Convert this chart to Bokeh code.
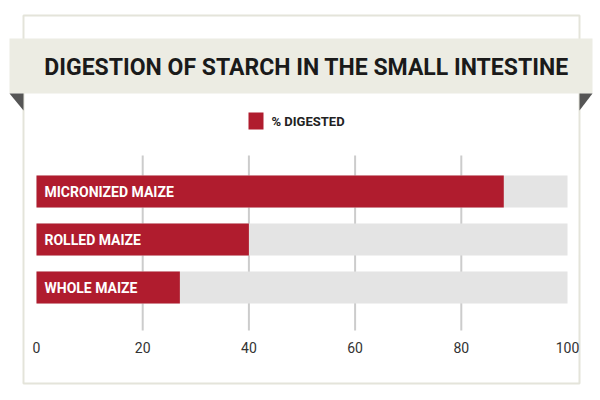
from bokeh.plotting import figure
from bokeh.models import Range1d
from bokeh.core.properties import value
from bokeh.embed import file_html
from bokeh.resources import INLINE

# ---- data ----
categories = ["MICRONIZED MAIZE", "ROLLED MAIZE", "WHOLE MAIZE"]
digested = [88, 40, 27]
full_scale = [100, 100, 100]
ticks = [0, 20, 40, 60, 80, 100]
tick_labels = ["0", "20", "40", "60", "80", "100"]
title_text = "DIGESTION OF STARCH IN THE SMALL INTESTINE"
legend_text = "% DIGESTED"

RED = "#b01c2e"
GRAY = "#e4e4e4"
FONT = "Roboto"

# ---- layout (pixel geometry) ----
X0_PX, PX_PER_UNIT = 36.0, 5.31


def px2x(px):
    return (px - X0_PX) / PX_PER_UNIT


p = figure(width=600, height=400, output_backend="svg", toolbar_location=None,
           x_range=Range1d(px2x(0), px2x(600)), y_range=Range1d(400, 0),
           min_border=0, border_fill_color="white", background_fill_color="white")
p.axis.visible = False
p.grid.visible = False
p.outline_line_color = None

# card
p.quad(left=[px2x(23)], right=[px2x(579)], top=[15], bottom=[383],
       fill_color="white", line_color="#e4e4da", line_width=2)
# banner
p.quad(left=[px2x(9)], right=[px2x(592)], top=[38], bottom=[93],
       fill_color="#ecece3", line_color=None)
# folded corners
p.patch(x=[px2x(9), px2x(23), px2x(23)], y=[93, 93, 110], fill_color="#555555", line_color=None)
p.patch(x=[px2x(579), px2x(592), px2x(579)], y=[93, 93, 110], fill_color="#555555", line_color=None)

p.text(x=[px2x(306)], y=[67], text=[title_text], text_font=value(FONT),
       text_font_style="bold", text_font_size="23px", text_color="#1a1a1a",
       text_align="center", text_baseline="middle")

# legend
p.quad(left=[px2x(248)], right=[px2x(263)], top=[112], bottom=[129],
       fill_color=RED, line_color=None)
p.text(x=[px2x(271)], y=[121], text=[legend_text], text_font=value(FONT),
       text_font_style="bold", text_font_size="13px", text_color="#222222",
       text_align="left", text_baseline="middle")

# gridlines
grid_vals = ticks[1:-1]
p.segment(x0=grid_vals, x1=grid_vals, y0=[155] * len(grid_vals), y1=[330] * len(grid_vals),
          line_color="#cccccc", line_width=2)

# bars
y_centers = [191 + 48 * i for i in range(len(categories))]
p.hbar(y=y_centers, left=0, right=full_scale, height=32, fill_color=GRAY, line_color=None)
p.hbar(y=y_centers, left=0, right=digested, height=32, fill_color=RED, line_color=None)
p.text(x=[px2x(44)] * len(categories), y=y_centers, text=categories, text_font=value(FONT),
       text_font_style="bold", text_font_size="14px", text_color="white",
       text_align="left", text_baseline="middle")

# tick labels
p.text(x=ticks, y=[347] * len(ticks), text=tick_labels, text_font=value(FONT),
       text_font_size="14px", text_color="#333333",
       text_align="center", text_baseline="middle")

open("out.html", "w").write(file_html(p, INLINE))
